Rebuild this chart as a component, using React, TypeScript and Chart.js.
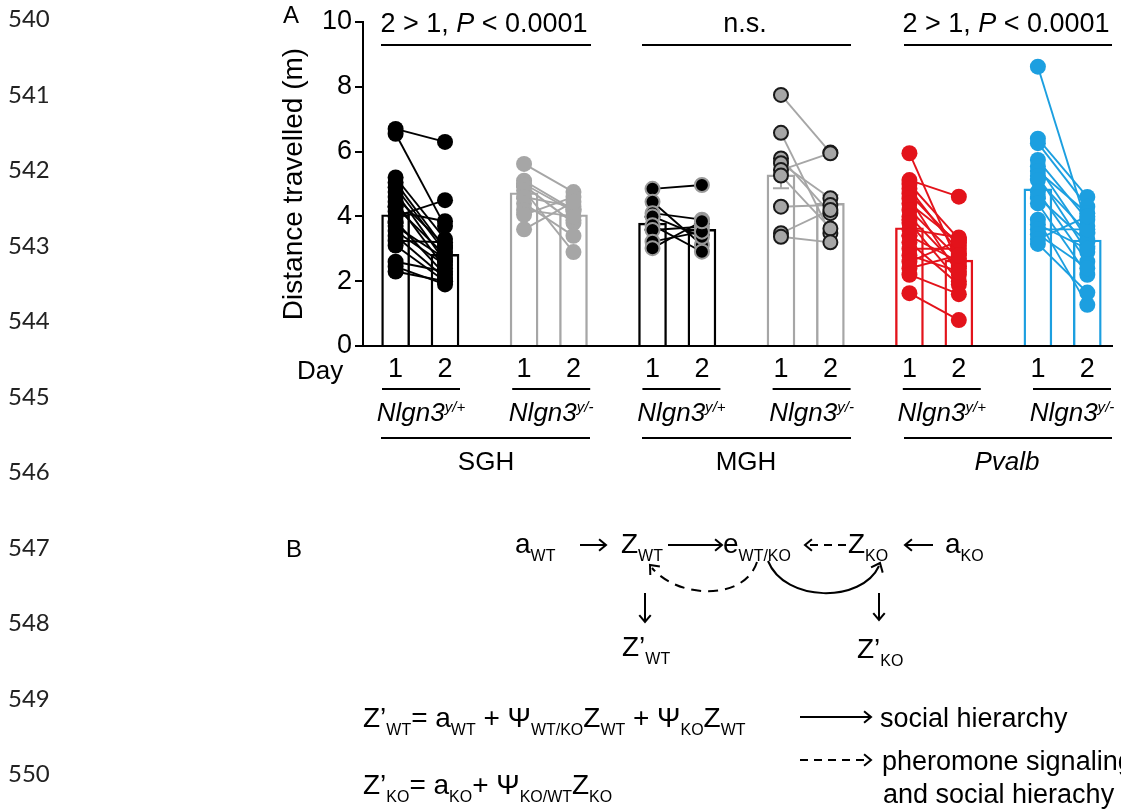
import React, { useEffect, useRef } from "react";
import { Chart, registerables } from "chart.js";
Chart.register(...registerables);

// ---------- data ----------
const DAY_LABELS = ["1", "2"];
const GROUP_NAMES = ["SGH y/+", "SGH y/-", "MGH y/+", "MGH y/-", "Pvalb y/+", "Pvalb y/-"];
const Y_TICKS = [0, 2, 4, 6, 8, 10];

const MEAN_DAY1 = [4.05, 4.73, 3.79, 5.28, 3.65, 4.85];
const MEAN_DAY2 = [2.83, 4.05, 3.6, 4.4, 2.65, 3.27];
const SEM_DAY1 = [0.25, 0.18, 0.2, 0.41, 0.25, 0.3];
const SEM_DAY2 = [0.22, 0.17, 0.17, 0.26, 0.2, 0.2];

const SGH_WT_D1 = [6.7, 6.55, 5.2, 5.05, 4.9, 4.75, 4.6, 4.45, 4.3, 4.15, 4.0, 3.85, 3.7, 3.55, 3.4, 3.25, 3.1, 2.6, 2.45, 2.3];
const SGH_WT_D2 = [6.3, 3.7, 3.3, 3.0, 2.9, 2.6, 3.1, 2.4, 2.8, 3.85, 4.5, 2.2, 2.7, 2.5, 2.1, 3.2, 2.0, 2.3, 1.9, 2.0];
const SGH_KO_D1 = [5.62, 5.1, 5.0, 4.95, 4.8, 4.6, 4.4, 4.2, 4.05, 3.6];
const SGH_KO_D2 = [4.75, 4.2, 4.15, 3.8, 2.9, 4.3, 3.4, 4.0, 4.6, 4.45];
const MGH_WT_D1 = [4.85, 4.45, 4.1, 4.0, 3.73, 3.58, 3.22, 3.02];
const MGH_WT_D2 = [4.97, 3.12, 3.9, 3.37, 2.91, 3.68, 3.53, 3.85];
const MGH_KO_D1 = [7.75, 6.58, 5.79, 5.64, 5.43, 5.26, 4.3, 3.48, 3.37];
const MGH_KO_D2 = [5.97, 3.48, 4.1, 4.56, 5.95, 3.63, 4.35, 4.2, 3.2];
const PV_WT_D1 = [5.95, 5.12, 5.0, 4.85, 4.7, 4.55, 4.4, 4.2, 4.0, 3.8, 3.6, 3.4, 3.2, 3.0, 2.8, 2.6, 2.4, 2.2, 1.63];
const PV_WT_D2 = [2.5, 4.61, 3.3, 2.9, 3.1, 2.2, 3.2, 2.7, 2.4, 2.0, 3.35, 2.6, 1.9, 3.0, 2.3, 3.25, 2.8, 1.6, 0.8];
const PV_KO_D1 = [8.62, 6.4, 6.26, 5.74, 5.55, 5.4, 5.25, 5.12, 4.76, 4.6, 4.4, 3.9, 3.75, 3.6, 3.45, 3.3, 3.15];
const PV_KO_D2 = [3.7, 4.6, 4.3, 3.9, 3.3, 4.1, 2.9, 3.5, 2.6, 3.2, 2.2, 1.27, 3.0, 3.6, 2.4, 4.0, 1.65];

const PAIRS_D1 = [SGH_WT_D1, SGH_KO_D1, MGH_WT_D1, MGH_KO_D1, PV_WT_D1, PV_KO_D1];
const PAIRS_D2 = [SGH_WT_D2, SGH_KO_D2, MGH_WT_D2, MGH_KO_D2, PV_WT_D2, PV_KO_D2];

const LINE_NUMBERS = ["540", "541", "542", "543", "544", "545", "546", "547", "548", "549", "550"];

// ---------- styles ----------
const BLACK = "#000000";
const GRAY = "#a6a6a6";
const RED = "#e3131b";
const BLUE = "#1c9fe0";
const BAR_COLORS = [BLACK, GRAY, BLACK, GRAY, RED, BLUE];
const LINE_COLORS = [BLACK, GRAY, BLACK, GRAY, RED, BLUE];
const DOT_FILL = [BLACK, GRAY, BLACK, GRAY, RED, BLUE];
const DOT_BORDER = [BLACK, GRAY, "#9a9a9a", "#1a1a1a", RED, BLUE];
const DOT_BORDER_W = [0, 0, 2, 2, 0, 0];
const FONT = "'Liberation Sans', Arial, Helvetica, sans-serif";

const GROUP_PITCH = 2.6;
const xPos = (g: number, d: number) => g * GROUP_PITCH + d;

const errorBarPlugin = {
  id: "errorBars",
  afterDatasetDraw(chart: any, args: any) {
    if (args.meta.type !== "bar") return;
    const { ctx } = chart;
    const xs = chart.scales.x;
    const ys = chart.scales.y;
    ctx.save();
    for (let g = 0; g < 6; g++) {
      [0, 1].forEach((d) => {
        const m = d === 0 ? MEAN_DAY1[g] : MEAN_DAY2[g];
        const s = d === 0 ? SEM_DAY1[g] : SEM_DAY2[g];
        const px = xs.getPixelForValue(xPos(g, d));
        const y1 = ys.getPixelForValue(m - s);
        const y2 = ys.getPixelForValue(m + s);
        ctx.strokeStyle = BAR_COLORS[g];
        ctx.lineWidth = 2;
        ctx.beginPath();
        ctx.moveTo(px, y1);
        ctx.lineTo(px, y2);
        ctx.moveTo(px - 8, y1);
        ctx.lineTo(px + 8, y1);
        ctx.moveTo(px - 8, y2);
        ctx.lineTo(px + 8, y2);
        ctx.stroke();
      });
    }
    ctx.restore();
  },
};

type Part = { t: string; s?: "sub" | "sup"; i?: boolean };

function Rich(props: {
  x: number;
  y: number;
  size: number;
  parts: Part[];
  anchor?: "start" | "middle" | "end";
  subRatio?: number;
  subShift?: number;
  supShift?: number;
}) {
  const { x, y, size, parts, anchor = "start" } = props;
  const subRatio = props.subRatio ?? 0.57;
  const subShift = props.subShift ?? 0.3;
  const supShift = props.supShift ?? 0.38;
  let cur = 0;
  const spans = parts.map((p, k) => {
    const target = p.s === "sub" ? size * subShift : p.s === "sup" ? -size * supShift : 0;
    const dy = target - cur;
    cur = target;
    return (
      <tspan
        key={k}
        dy={dy}
        fontSize={p.s ? size * subRatio : size}
        fontStyle={p.i ? "italic" : "normal"}
      >
        {p.t}
      </tspan>
    );
  });
  return (
    <text
      x={x}
      y={y}
      fontSize={size}
      textAnchor={anchor}
      fontFamily={FONT}
      fill="#000"
      xmlSpace="preserve"
      style={{ whiteSpace: "pre" }}
    >
      {spans}
    </text>
  );
}

function Arrow(props: { x1: number; y1: number; x2: number; y2: number; dashed?: boolean; head?: number }) {
  const { x1, y1, x2, y2, dashed } = props;
  const h = props.head ?? 9;
  const ang = Math.atan2(y2 - y1, x2 - x1);
  const a1 = ang + Math.PI * 0.78;
  const a2 = ang - Math.PI * 0.78;
  const p1 = [x2 + h * Math.cos(a1), y2 + h * Math.sin(a1)];
  const p2 = [x2 + h * Math.cos(a2), y2 + h * Math.sin(a2)];
  return (
    <g stroke="#000" strokeWidth={2} fill="none">
      <line x1={x1} y1={y1} x2={x2} y2={y2} strokeDasharray={dashed ? "8 6" : undefined} />
      <polyline points={`${p1[0]},${p1[1]} ${x2},${y2} ${p2[0]},${p2[1]}`} />
    </g>
  );
}

function CurveArrow(props: { d: string; tipX: number; tipY: number; fromX: number; fromY: number; dashed?: boolean }) {
  const { d, tipX, tipY, fromX, fromY, dashed } = props;
  const h = 10;
  const ang = Math.atan2(tipY - fromY, tipX - fromX);
  const a1 = ang + Math.PI * 0.78;
  const a2 = ang - Math.PI * 0.78;
  return (
    <g stroke="#000" strokeWidth={2} fill="none">
      <path d={d} strokeDasharray={dashed ? "10 7" : undefined} />
      <polyline
        points={`${tipX + h * Math.cos(a1)},${tipY + h * Math.sin(a1)} ${tipX},${tipY} ${tipX + h * Math.cos(a2)},${tipY + h * Math.sin(a2)}`}
      />
    </g>
  );
}

export default function App() {
  const canvasRef = useRef<HTMLCanvasElement | null>(null);

  useEffect(() => {
    const canvas = canvasRef.current;
    if (!canvas) return;
    const datasets: any[] = [];

    // bars
    const barData: any[] = [];
    const barBorders: string[] = [];
    for (let g = 0; g < 6; g++) {
      barData.push({ x: xPos(g, 0), y: MEAN_DAY1[g] });
      barBorders.push(BAR_COLORS[g]);
      barData.push({ x: xPos(g, 1), y: MEAN_DAY2[g] });
      barBorders.push(BAR_COLORS[g]);
    }
    datasets.push({
      type: "bar",
      label: "mean",
      data: barData,
      backgroundColor: "#ffffff",
      borderColor: barBorders,
      borderWidth: 2.4,
      borderSkipped: "bottom",
      barThickness: 28,
      order: 3,
    });

    // paired lines
    for (let g = 0; g < 6; g++) {
      const d1 = PAIRS_D1[g];
      const d2 = PAIRS_D2[g];
      for (let i = 0; i < d1.length; i++) {
        datasets.push({
          type: "line",
          label: GROUP_NAMES[g] + " " + i,
          data: [
            { x: xPos(g, 0), y: d1[i] },
            { x: xPos(g, 1), y: d2[i] },
          ],
          borderColor: LINE_COLORS[g],
          borderWidth: 1.9,
          pointRadius: 0,
          fill: false,
          order: 2,
        });
      }
    }
    // dots
    for (let g = 0; g < 6; g++) {
      const d1 = PAIRS_D1[g];
      const d2 = PAIRS_D2[g];
      const pts: any[] = [];
      d1.forEach((v) => pts.push({ x: xPos(g, 0), y: v }));
      d2.forEach((v) => pts.push({ x: xPos(g, 1), y: v }));
      datasets.push({
        type: "line",
        label: GROUP_NAMES[g] + " dots",
        data: pts,
        showLine: false,
        pointRadius: DOT_BORDER_W[g] ? 7 : 8,
        pointBackgroundColor: DOT_FILL[g],
        pointBorderColor: DOT_BORDER[g],
        pointBorderWidth: DOT_BORDER_W[g],
        order: 1,
        clip: false,
      });
    }

    const tickPos: number[] = [];
    for (let g = 0; g < 6; g++) {
      tickPos.push(xPos(g, 0), xPos(g, 1));
    }

    const chart = new Chart(canvas, {
      type: "bar",
      data: { datasets },
      plugins: [errorBarPlugin],
      options: {
        responsive: false,
        animation: false,
        events: [],
        layout: { padding: { left: 277, top: 22, right: 0, bottom: 423 } },
        plugins: {
          legend: { display: false },
          tooltip: { enabled: false },
          title: { display: false },
        },
        scales: {
          x: {
            type: "linear",
            min: -0.66,
            max: 14.5,
            offset: false,
            afterBuildTicks: (s: any) => {
              s.ticks = tickPos.map((v) => ({ value: v }));
            },
            afterFit: (s: any) => {
              s.height = 40;
            },
            grid: { display: false, drawTicks: false },
            border: { display: true, color: "#000", width: 2 },
            ticks: {
              autoSkip: false,
              maxRotation: 0,
              minRotation: 0,
              color: "#000",
              padding: 7,
              font: { family: FONT, size: 27 },
              callback: (_v: any, i: number) => DAY_LABELS[i % 2],
            },
          },
          y: {
            min: 0,
            max: 10,
            afterBuildTicks: (s: any) => {
              s.ticks = Y_TICKS.map((v) => ({ value: v }));
            },
            afterFit: (s: any) => {
              s.width = 86;
            },
            ticks: { color: "#000", padding: 3, font: { family: FONT, size: 27 } },
            grid: {
              display: true,
              drawOnChartArea: false,
              drawTicks: true,
              tickLength: 8,
              color: "#000",
              lineWidth: 2,
            },
            border: { display: true, color: "#000", width: 2 },
            title: {
              display: true,
              text: "Distance travelled (m)",
              color: "#000",
              font: { family: FONT, size: 28 },
              padding: { top: 0, bottom: 0 },
            },
          },
        },
      } as any,
    });
    return () => chart.destroy();
  }, []);

  const pairCenters = [0, 1, 2, 3, 4, 5].map((g) => 396 + g * 130.2 + 25);
  const groupLines = [
    [381, 590],
    [642, 851],
    [904, 1112],
  ];
  const pairLines = [0, 1, 2, 3, 4, 5].map((g) => [382 + g * 130.2, 460 + g * 130.2]);

  return (
    <div style={{ position: "absolute", left: 0, top: 0, width: 1121, height: 809, background: "#fff", overflow: "hidden" }}>
      <canvas ref={canvasRef} width={1121} height={809} style={{ position: "absolute", left: 0, top: 0 }} />
      <svg
        width={1121}
        height={809}
        style={{ position: "absolute", left: 0, top: 0, pointerEvents: "none" }}
      >
        {/* line numbers */}
        {LINE_NUMBERS.map((n, i) => (
          <text key={n} x={8} y={27 + i * 75.5} fontSize={24} fontFamily="Lato, 'Open Sans', sans-serif" fill="#222">
            {n}
          </text>
        ))}

        {/* panel A */}
        <text x={283} y={23} fontSize={24} fontFamily={FONT}>A</text>
        <Rich x={484} y={32} size={27} anchor="middle" parts={[{ t: "2 > 1, " }, { t: "P", i: true }, { t: " < 0.0001" }]} />
        <Rich x={745} y={32} size={27} anchor="middle" parts={[{ t: "n.s." }]} />
        <Rich x={1006} y={32} size={27} anchor="middle" parts={[{ t: "2 > 1, " }, { t: "P", i: true }, { t: " < 0.0001" }]} />
        <g stroke="#000" strokeWidth={2}>
          <line x1={381} y1={45} x2={591} y2={45} />
          <line x1={642} y1={45} x2={851} y2={45} />
          <line x1={904} y1={45} x2={1112} y2={45} />
        </g>

        <text x={297} y={379} fontSize={26} fontFamily={FONT}>Day</text>
        <g stroke="#000" strokeWidth={2}>
          {pairLines.map((p, i) => (
            <line key={i} x1={p[0]} y1={389} x2={p[1]} y2={389} />
          ))}
          {groupLines.map((p, i) => (
            <line key={"g" + i} x1={p[0]} y1={438} x2={p[1]} y2={438} />
          ))}
        </g>
        {pairCenters.map((c, g) => (
          <Rich
            key={g}
            x={c}
            y={421}
            size={26}
            anchor="middle"
            subRatio={0.58}
            supShift={0.36}
            parts={[{ t: "Nlgn3", i: true }, { t: g % 2 === 0 ? "y/+" : "y/-", s: "sup", i: true }]}
          />
        ))}
        <Rich x={486} y={470} size={26} anchor="middle" parts={[{ t: "SGH" }]} />
        <Rich x={746} y={470} size={26} anchor="middle" parts={[{ t: "MGH" }]} />
        <Rich x={1007} y={470} size={26} anchor="middle" parts={[{ t: "Pvalb", i: true }]} />

        {/* panel B */}
        <text x={286} y={557} fontSize={24} fontFamily={FONT}>B</text>
        <Rich x={515} y={553} size={28} parts={[{ t: "a" }, { t: "WT", s: "sub" }]} />
        <Arrow x1={580} y1={545} x2={606} y2={545} />
        <Rich x={621} y={553} size={28} parts={[{ t: "Z" }, { t: "WT", s: "sub" }]} />
        <Arrow x1={668} y1={545} x2={722} y2={545} />
        <Rich x={723} y={553} size={28} parts={[{ t: "e" }, { t: "WT/KO", s: "sub" }]} />
        <Arrow x1={846} y1={545} x2={805} y2={545} dashed />
        <Rich x={848} y={553} size={28} parts={[{ t: "Z" }, { t: "KO", s: "sub" }]} />
        <Arrow x1={933} y1={545} x2={905} y2={545} />
        <Rich x={945} y={553} size={28} parts={[{ t: "a" }, { t: "KO", s: "sub" }]} />

        <CurveArrow d="M 757 562 C 745 600, 680 600, 652 568" tipX={650} tipY={565} fromX={672} fromY={590} dashed />
        <CurveArrow d="M 768 561 C 785 603, 862 603, 879 566" tipX={880} tipY={563} fromX={868} fromY={590} />

        <Arrow x1={645} y1={593} x2={645} y2={622} />
        <Arrow x1={879} y1={593} x2={879} y2={620} />
        <Rich x={622} y={656} size={28} parts={[{ t: "Z’" }, { t: "WT", s: "sub" }]} />
        <Rich x={857} y={658} size={28} parts={[{ t: "Z’" }, { t: "KO", s: "sub" }]} />

        <Rich
          x={363}
          y={727}
          size={28}
          parts={[
            { t: "Z’" },
            { t: "WT", s: "sub" },
            { t: "= a" },
            { t: "WT", s: "sub" },
            { t: " + Ψ" },
            { t: "WT/KO", s: "sub" },
            { t: "Z" },
            { t: "WT", s: "sub" },
            { t: " + Ψ" },
            { t: "KO", s: "sub" },
            { t: "Z" },
            { t: "WT", s: "sub" },
          ]}
        />
        <Rich
          x={363}
          y={794}
          size={28}
          parts={[
            { t: "Z’" },
            { t: "KO", s: "sub" },
            { t: "= a" },
            { t: "KO", s: "sub" },
            { t: "+ Ψ" },
            { t: "KO/WT", s: "sub" },
            { t: "Z" },
            { t: "KO", s: "sub" },
          ]}
        />
        <Arrow x1={800} y1={717} x2={871} y2={717} />
        <Rich x={880} y={727} size={27} parts={[{ t: "social hierarchy" }]} />
        <Arrow x1={800} y1={760} x2={871} y2={760} dashed />
        <Rich x={882} y={770} size={27} parts={[{ t: "pheromone signaling" }]} />
        <Rich x={883} y={803} size={27} parts={[{ t: "and social hierachy" }]} />
      </svg>
    </div>
  );
}
